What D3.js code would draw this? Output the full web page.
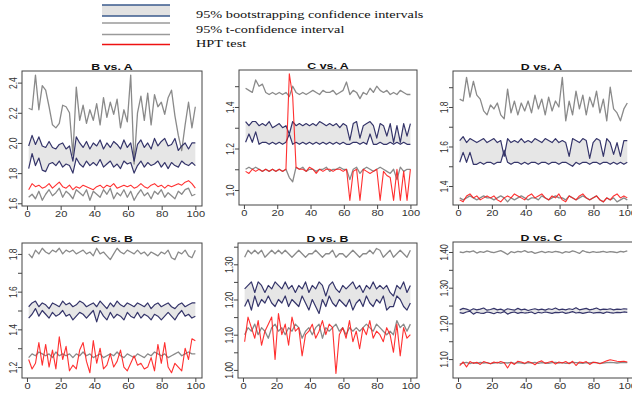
<!DOCTYPE html>
<html>
<head>
<meta charset="utf-8">
<script src="https://cdn.jsdelivr.net/npm/d3@7"></script>
<style>
  html, body { margin: 0; padding: 0; background: #fff; }
  svg { display: block; }
</style>
</head>
<body>
<div id="chart"></div>
<script>
// ---- data (50 trials per series) ----
const titles = ['B vs. A', 'C vs. A', 'D vs. A', 'C vs. B', 'D vs. B', 'D vs. C'];
const xTicks = [0, 20, 40, 60, 80, 100];
const legendLabels = ['95% bootstrapping confidence intervals', '95% t-confidence interval', 'HPT test'];

// B vs. A
const tUpBA = [2.23,2.22,2.45,2.22,2.38,2.35,2.24,2.12,2.10,2.13,2.25,2.24,2.20,1.92,2.37,2.15,2.25,2.13,2.22,2.15,2.26,2.12,2.30,2.17,2.27,2.19,2.29,2.10,2.22,2.14,2.45,1.86,2.20,2.31,2.15,2.33,2.12,2.32,2.24,2.27,2.19,2.30,2.35,2.18,2.05,1.95,2.12,2.27,2.10,2.24];
const bUpBA = [1.98,2.05,1.99,2.04,1.98,1.97,2.01,1.97,1.96,1.99,2.00,1.96,1.98,1.88,2.04,2.00,1.97,2.01,1.96,2.00,1.98,2.02,1.96,2.00,1.97,2.01,1.99,1.96,2.02,1.97,2.00,1.88,1.99,2.02,1.97,2.00,1.96,2.03,1.98,2.01,2.03,1.98,1.99,2.03,1.95,1.98,2.00,1.96,2.00,2.00];
const bLoBA = [1.83,1.93,1.85,1.90,1.82,1.81,1.86,1.87,1.85,1.88,1.84,1.86,1.85,1.80,1.90,1.86,1.84,1.88,1.85,1.87,1.85,1.89,1.84,1.86,1.88,1.84,1.86,1.83,1.88,1.86,1.87,1.80,1.85,1.88,1.84,1.87,1.85,1.86,1.88,1.84,1.87,1.83,1.87,1.85,1.84,1.88,1.86,1.85,1.87,1.85];
const tLoBA = [1.64,1.66,1.63,1.68,1.62,1.66,1.69,1.65,1.67,1.70,1.64,1.68,1.66,1.63,1.69,1.67,1.65,1.69,1.62,1.68,1.66,1.64,1.69,1.66,1.70,1.63,1.67,1.65,1.69,1.64,1.68,1.62,1.66,1.69,1.65,1.67,1.63,1.68,1.66,1.69,1.64,1.67,1.65,1.63,1.68,1.66,1.69,1.70,1.65,1.66];
const hptBA = [1.69,1.73,1.71,1.72,1.70,1.71,1.73,1.70,1.72,1.74,1.71,1.70,1.72,1.69,1.71,1.70,1.72,1.71,1.70,1.69,1.71,1.72,1.70,1.72,1.71,1.73,1.70,1.71,1.72,1.71,1.72,1.70,1.71,1.73,1.71,1.70,1.72,1.73,1.71,1.72,1.70,1.72,1.71,1.72,1.73,1.72,1.74,1.75,1.73,1.70];

// C vs. A
const tUpCA = [1.49,1.48,1.47,1.53,1.50,1.51,1.47,1.46,1.47,1.46,1.47,1.46,1.47,1.45,1.50,1.47,1.46,1.47,1.46,1.47,1.48,1.47,1.46,1.48,1.47,1.47,1.48,1.46,1.47,1.48,1.52,1.46,1.48,1.47,1.44,1.47,1.46,1.49,1.47,1.50,1.48,1.47,1.48,1.46,1.47,1.46,1.48,1.47,1.46,1.46];
const bUpCA = [1.33,1.31,1.33,1.33,1.31,1.32,1.31,1.33,1.30,1.31,1.32,1.30,1.31,1.27,1.33,1.31,1.32,1.31,1.32,1.31,1.32,1.31,1.33,1.32,1.31,1.32,1.31,1.32,1.30,1.32,1.31,1.24,1.32,1.33,1.25,1.31,1.32,1.33,1.31,1.25,1.32,1.31,1.26,1.32,1.23,1.31,1.23,1.32,1.26,1.32];
const bLoCA = [1.23,1.27,1.23,1.28,1.22,1.23,1.23,1.22,1.23,1.22,1.23,1.22,1.23,1.27,1.22,1.23,1.22,1.23,1.22,1.23,1.22,1.23,1.22,1.23,1.22,1.23,1.22,1.23,1.22,1.23,1.22,1.22,1.23,1.23,1.22,1.23,1.22,1.27,1.22,1.22,1.23,1.22,1.22,1.23,1.22,1.23,1.22,1.23,1.22,1.22];
const tLoCA = [1.10,1.11,1.10,1.11,1.10,1.09,1.10,1.09,1.10,1.09,1.10,1.09,1.10,1.06,1.04,1.11,1.10,1.11,1.09,1.10,1.10,1.09,1.10,1.10,1.11,1.09,1.10,1.10,1.11,1.10,1.10,1.05,1.10,1.11,1.08,1.10,1.11,1.10,1.09,1.10,1.11,1.10,1.09,1.08,1.10,1.05,1.11,1.09,1.10,1.10];
const hptCA = [1.09,1.08,1.10,1.09,1.10,1.09,1.10,1.09,1.10,1.09,1.10,1.09,1.10,1.56,1.45,1.11,1.10,1.10,1.09,1.11,1.10,1.08,1.10,1.09,1.10,1.10,1.09,1.10,1.10,1.09,1.10,0.95,1.09,1.10,0.95,1.10,1.09,1.08,1.09,1.10,0.95,1.09,1.07,1.06,0.95,1.10,0.95,1.09,0.95,1.10];

// D vs. A
const tUpDA = [1.84,1.83,1.95,1.85,1.93,1.86,1.84,1.78,1.76,1.81,1.79,1.82,1.76,1.74,1.89,1.77,1.83,1.76,1.82,1.78,1.83,1.77,1.86,1.79,1.84,1.76,1.85,1.78,1.83,1.80,1.95,1.73,1.83,1.76,1.88,1.79,1.86,1.76,1.85,1.80,1.88,1.77,1.84,1.73,1.90,1.79,1.77,1.73,1.79,1.82];
const bUpDA = [1.63,1.65,1.62,1.64,1.63,1.62,1.63,1.64,1.62,1.63,1.64,1.62,1.63,1.55,1.64,1.62,1.63,1.62,1.64,1.62,1.63,1.62,1.64,1.63,1.62,1.64,1.63,1.62,1.64,1.62,1.63,1.62,1.55,1.64,1.63,1.62,1.64,1.63,1.54,1.62,1.64,1.63,1.55,1.64,1.62,1.56,1.62,1.55,1.63,1.63];
const bLoDA = [1.52,1.57,1.52,1.57,1.51,1.51,1.52,1.51,1.52,1.52,1.51,1.52,1.52,1.58,1.52,1.51,1.52,1.52,1.51,1.52,1.51,1.52,1.52,1.51,1.52,1.52,1.51,1.52,1.52,1.51,1.52,1.52,1.51,1.50,1.52,1.51,1.52,1.52,1.51,1.52,1.52,1.51,1.52,1.52,1.51,1.52,1.51,1.52,1.51,1.52];
const tLoDA = [1.34,1.33,1.34,1.35,1.34,1.33,1.34,1.35,1.34,1.34,1.33,1.34,1.35,1.34,1.32,1.34,1.33,1.34,1.35,1.34,1.33,1.34,1.34,1.33,1.35,1.34,1.33,1.34,1.35,1.34,1.34,1.33,1.35,1.34,1.33,1.34,1.35,1.34,1.33,1.34,1.35,1.33,1.32,1.34,1.33,1.34,1.32,1.33,1.34,1.33];
const hptDA = [1.33,1.32,1.35,1.36,1.34,1.35,1.33,1.34,1.35,1.34,1.35,1.33,1.32,1.34,1.35,1.34,1.36,1.35,1.34,1.33,1.35,1.36,1.34,1.35,1.36,1.34,1.33,1.35,1.34,1.36,1.33,1.32,1.35,1.34,1.33,1.35,1.36,1.34,1.33,1.34,1.35,1.33,1.32,1.34,1.33,1.35,1.36,1.34,1.35,1.34];

// C vs. B
const tUpCB = [1.80,1.78,1.82,1.80,1.83,1.81,1.80,1.82,1.81,1.83,1.80,1.82,1.81,1.82,1.80,1.81,1.82,1.80,1.81,1.79,1.83,1.80,1.81,1.79,1.77,1.80,1.83,1.81,1.80,1.82,1.81,1.80,1.82,1.80,1.81,1.79,1.81,1.80,1.79,1.81,1.80,1.82,1.78,1.77,1.81,1.80,1.82,1.79,1.78,1.82];
const bUpCB = [1.52,1.54,1.55,1.52,1.54,1.53,1.51,1.54,1.53,1.52,1.55,1.53,1.54,1.52,1.53,1.55,1.54,1.52,1.53,1.54,1.52,1.55,1.53,1.51,1.54,1.52,1.55,1.53,1.52,1.54,1.53,1.52,1.54,1.53,1.52,1.54,1.51,1.53,1.54,1.52,1.53,1.54,1.52,1.51,1.53,1.54,1.52,1.53,1.54,1.54];
const bLoCB = [1.46,1.48,1.51,1.47,1.50,1.48,1.46,1.49,1.47,1.48,1.50,1.47,1.48,1.45,1.47,1.49,1.48,1.46,1.48,1.50,1.44,1.50,1.47,1.45,1.49,1.46,1.48,1.47,1.45,1.49,1.47,1.46,1.49,1.46,1.48,1.47,1.45,1.48,1.47,1.45,1.47,1.49,1.47,1.45,1.48,1.50,1.47,1.48,1.46,1.47];
const tLoCB = [1.25,1.27,1.26,1.28,1.27,1.26,1.27,1.25,1.28,1.26,1.27,1.26,1.27,1.25,1.27,1.26,1.28,1.26,1.27,1.25,1.26,1.27,1.25,1.26,1.27,1.26,1.28,1.26,1.25,1.27,1.26,1.25,1.27,1.26,1.25,1.27,1.26,1.28,1.27,1.26,1.27,1.25,1.26,1.27,1.28,1.26,1.27,1.28,1.27,1.27];
const hptCB = [1.24,1.19,1.22,1.33,1.21,1.32,1.20,1.29,1.19,1.36,1.24,1.31,1.18,1.21,1.19,1.29,1.33,1.23,1.17,1.34,1.22,1.30,1.19,1.21,1.27,1.20,1.23,1.29,1.20,1.18,1.22,1.26,1.21,1.22,1.19,1.20,1.25,1.18,1.32,1.22,1.33,1.20,1.17,1.22,1.20,1.18,1.30,1.24,1.35,1.34];

// D vs. B
const tUpDB = [1.32,1.34,1.33,1.34,1.33,1.34,1.32,1.33,1.34,1.33,1.34,1.33,1.34,1.33,1.32,1.33,1.34,1.33,1.32,1.33,1.33,1.34,1.33,1.32,1.33,1.33,1.34,1.32,1.33,1.33,1.32,1.33,1.34,1.33,1.32,1.33,1.33,1.34,1.33,1.345,1.34,1.32,1.33,1.34,1.32,1.33,1.34,1.33,1.32,1.34];
const bUpDB = [1.23,1.24,1.25,1.22,1.25,1.24,1.22,1.24,1.23,1.25,1.24,1.23,1.25,1.23,1.24,1.22,1.24,1.23,1.25,1.22,1.24,1.23,1.25,1.24,1.21,1.24,1.25,1.23,1.22,1.24,1.23,1.24,1.25,1.23,1.24,1.22,1.24,1.23,1.25,1.23,1.24,1.23,1.24,1.22,1.21,1.24,1.23,1.25,1.22,1.24];
const bLoDB = [1.18,1.20,1.17,1.21,1.18,1.20,1.19,1.21,1.19,1.18,1.20,1.19,1.21,1.18,1.20,1.19,1.18,1.21,1.19,1.17,1.20,1.18,1.16,1.20,1.18,1.21,1.19,1.18,1.20,1.19,1.18,1.20,1.17,1.19,1.20,1.18,1.21,1.19,1.18,1.20,1.19,1.21,1.17,1.18,1.18,1.21,1.20,1.18,1.17,1.19];
const tLoDB = [1.10,1.12,1.11,1.13,1.10,1.12,1.11,1.09,1.12,1.13,1.11,1.12,1.10,1.12,1.11,1.13,1.12,1.09,1.11,1.12,1.10,1.12,1.13,1.09,1.12,1.11,1.12,1.13,1.11,1.12,1.10,1.12,1.11,1.12,1.11,1.12,1.13,1.12,1.11,1.13,1.12,1.11,1.10,1.11,1.10,1.14,1.12,1.13,1.11,1.13];
const hptDB = [1.08,1.15,1.12,1.09,1.14,1.07,1.11,1.13,1.15,1.03,1.16,1.10,1.13,1.07,1.15,1.11,1.12,1.04,1.10,1.11,1.13,1.09,1.11,1.14,1.10,1.13,1.12,0.99,1.10,1.12,1.09,1.14,1.08,1.11,1.06,1.12,1.10,1.14,1.09,1.11,1.10,1.08,1.12,1.10,1.05,1.13,1.04,1.12,1.09,1.10];

// D vs. C
const tUpDC = [1.400,1.398,1.402,1.400,1.403,1.397,1.401,1.399,1.403,1.400,1.398,1.401,1.404,1.399,1.393,1.401,1.398,1.402,1.400,1.404,1.399,1.401,1.396,1.399,1.402,1.398,1.401,1.399,1.402,1.400,1.397,1.401,1.399,1.403,1.400,1.396,1.404,1.400,1.398,1.401,1.399,1.400,1.402,1.399,1.401,1.400,1.398,1.402,1.400,1.403];
const bUpDC = [1.238,1.242,1.240,1.236,1.241,1.238,1.240,1.243,1.237,1.239,1.242,1.238,1.240,1.236,1.241,1.239,1.237,1.242,1.238,1.240,1.236,1.239,1.241,1.238,1.240,1.237,1.241,1.239,1.243,1.238,1.240,1.238,1.241,1.239,1.244,1.238,1.240,1.242,1.238,1.240,1.243,1.238,1.240,1.239,1.241,1.238,1.240,1.239,1.241,1.240];
const bLoDC = [1.230,1.228,1.232,1.234,1.226,1.231,1.229,1.228,1.232,1.230,1.227,1.231,1.229,1.233,1.226,1.230,1.232,1.228,1.231,1.229,1.230,1.232,1.227,1.231,1.229,1.232,1.230,1.228,1.231,1.230,1.232,1.228,1.230,1.233,1.229,1.231,1.228,1.230,1.232,1.229,1.230,1.231,1.228,1.232,1.230,1.229,1.231,1.230,1.232,1.231];
const tLoDC = [1.086,1.089,1.091,1.087,1.090,1.088,1.091,1.089,1.090,1.087,1.089,1.091,1.088,1.090,1.089,1.091,1.088,1.090,1.089,1.087,1.090,1.089,1.091,1.088,1.090,1.089,1.088,1.090,1.091,1.089,1.090,1.088,1.089,1.091,1.090,1.089,1.088,1.090,1.089,1.091,1.090,1.088,1.089,1.090,1.091,1.090,1.089,1.090,1.091,1.090];
const hptDC = [1.082,1.092,1.078,1.093,1.088,1.091,1.085,1.093,1.090,1.087,1.092,1.089,1.093,1.090,1.075,1.091,1.085,1.094,1.092,1.088,1.093,1.090,1.084,1.092,1.095,1.088,1.091,1.094,1.086,1.092,1.089,1.093,1.087,1.094,1.082,1.092,1.090,1.093,1.085,1.091,1.090,1.087,1.091,1.095,1.098,1.096,1.094,1.093,1.094,1.092];

// y tick values and which of them carry a label
const yTicksBA = [1.6, 1.8, 2.0, 2.2, 2.4];
const yTicksCA = [1.0, 1.1, 1.2, 1.3, 1.4, 1.5];
const yTicksDA = [1.4, 1.5, 1.6, 1.7, 1.8, 1.9];
const yTicksCB = [1.2, 1.3, 1.4, 1.5, 1.6, 1.7, 1.8];
const yTicksDB = [1.00, 1.05, 1.10, 1.15, 1.20, 1.25, 1.30, 1.35];
const yTicksDC = [1.10, 1.15, 1.20, 1.25, 1.30, 1.35, 1.40];

const series = [
  { tUp: tUpBA, bUp: bUpBA, bLo: bLoBA, tLo: tLoBA, hpt: hptBA, ticks: yTicksBA, every: 1, fmt: '.1f' },
  { tUp: tUpCA, bUp: bUpCA, bLo: bLoCA, tLo: tLoCA, hpt: hptCA, ticks: yTicksCA, every: 2, fmt: '.1f' },
  { tUp: tUpDA, bUp: bUpDA, bLo: bLoDA, tLo: tLoDA, hpt: hptDA, ticks: yTicksDA, every: 2, fmt: '.1f' },
  { tUp: tUpCB, bUp: bUpCB, bLo: bLoCB, tLo: tLoCB, hpt: hptCB, ticks: yTicksCB, every: 2, fmt: '.1f' },
  { tUp: tUpDB, bUp: bUpDB, bLo: bLoDB, tLo: tLoDB, hpt: hptDB, ticks: yTicksDB, every: 2, fmt: '.2f' },
  { tUp: tUpDC, bUp: bUpDC, bLo: bLoDC, tLo: tLoDC, hpt: hptDC, ticks: yTicksDC, every: 2, fmt: '.2f' }
];

// ---- layout: plot boxes and y ranges as seen in the figure ----
const layout = [
  { l: 22,  r: 202, t: 71,  b: 206, y: [1.582, 2.477] },
  { l: 239, r: 417, t: 70,  b: 205, y: [0.928, 1.578] },
  { l: 453, r: 634, t: 71,  b: 205, y: [1.304, 1.982] },
  { l: 22,  r: 202, t: 243, b: 378, y: [1.142, 1.858] },
  { l: 238, r: 417, t: 243, b: 378, y: [0.977, 1.3605] },
  { l: 453, r: 634, t: 242, b: 378, y: [1.047, 1.428] }
];

const width = 632;
const height = 397;
const SX = 1.3; // the figure is stretched horizontally
const sans = 'Liberation Sans, Arial, sans-serif';
const serif = 'Liberation Serif, Times New Roman, serif';
const colors = { fill: '#e6e6e6', boot: '#35356a', tci: '#8a8a8a', hpt: '#ff1a1a', frame: '#444', text: '#333' };

const svg = d3.select('#chart')
  .append('svg')
  .attr('width', width)
  .attr('height', height)
  .style('background-color', '#fff');

// legend
const legend = svg.append('g').attr('class', 'legend');
legend.append('rect')
  .attr('x', 102).attr('y', 5).attr('width', 68).attr('height', 11)
  .attr('fill', '#e2e2e2');
[[5, '#3a5a8c'], [16, '#3a5a8c'], [23, '#9a9a9a'], [34.5, '#9a9a9a'], [44.5, '#ee1111']].forEach(([y, c]) => {
  legend.append('line')
    .attr('x1', 102).attr('x2', 170).attr('y1', y).attr('y2', y)
    .attr('stroke', c).attr('stroke-width', 1.6);
});
[17.5, 33, 47].forEach((y, i) => {
  legend.append('text')
    .attr('transform', `translate(196, ${y}) scale(${SX}, 1)`)
    .attr('font-family', serif)
    .attr('font-size', 11)
    .attr('fill', '#111')
    .text(legendLabels[i]);
});

series.forEach((s, k) => {
  const box = layout[k];
  const g = svg.append('g').attr('class', 'panel');

  const xScale = d3.scaleLinear().domain([-2.96, 103.96]).range([box.l, box.r]);
  const yScale = d3.scaleLinear().domain(box.y).range([box.b, box.t]);
  const trial = (i, n) => 1 + i * 99 / (n - 1);

  const line = d3.line()
    .x((d, i, arr) => xScale(trial(i, arr.length)))
    .y((d) => yScale(d));

  const idx = d3.range(s.bUp.length);
  const area = d3.area()
    .x((i) => xScale(trial(i, idx.length)))
    .y0((i) => yScale(s.bLo[i]))
    .y1((i) => yScale(s.bUp[i]));

  const clipId = 'clip' + k;
  g.append('clipPath').attr('id', clipId)
    .append('rect')
    .attr('x', box.l).attr('y', box.t)
    .attr('width', box.r - box.l).attr('height', box.b - box.t);

  const plot = g.append('g').attr('clip-path', `url(#${clipId})`);

  plot.append('path')
    .attr('d', area(idx))
    .attr('fill', colors.fill);

  [['tUp', colors.tci, 1.3], ['tLo', colors.tci, 1.3], ['bUp', colors.boot, 1.2], ['bLo', colors.boot, 1.2], ['hpt', colors.hpt, 1.1]]
    .forEach(([key, c, w]) => {
      plot.append('path')
        .datum(s[key])
        .attr('d', line)
        .attr('fill', 'none')
        .attr('stroke', c)
        .attr('stroke-width', w)
        .attr('stroke-linejoin', 'round')
        .attr('opacity', key === 'hpt' ? 0.9 : 1);
    });

  // frame
  g.append('rect')
    .attr('x', box.l).attr('y', box.t)
    .attr('width', box.r - box.l).attr('height', box.b - box.t)
    .attr('fill', 'none')
    .attr('stroke', colors.frame)
    .attr('stroke-width', 1);

  // x axis
  const xAxis = g.append('g')
    .attr('transform', `translate(0, ${box.b})`)
    .call(d3.axisBottom(xScale).tickValues(xTicks).tickSize(4).tickPadding(0.5));
  xAxis.select('.domain').remove();
  xAxis.selectAll('line').attr('stroke', colors.frame);
  xAxis.selectAll('text')
    .attr('font-family', sans)
    .attr('font-size', 8.5)
    .attr('fill', colors.text)
    .attr('transform', `scale(${SX}, 1)`);

  // y axis
  const yAxis = g.append('g')
    .attr('transform', `translate(${box.l}, 0)`)
    .call(d3.axisLeft(yScale).tickValues(s.ticks).tickSize(4)
      .tickFormat((d, i) => (i % s.every === 0 ? d3.format(s.fmt)(d) : '')));
  yAxis.select('.domain').remove();
  yAxis.selectAll('line').attr('stroke', colors.frame);
  yAxis.selectAll('text')
    .attr('font-family', sans)
    .attr('font-size', 8.5)
    .attr('fill', colors.text)
    .attr('x', 0)
    .attr('y', -4)
    .attr('dy', 0)
    .attr('text-anchor', 'middle')
    .attr('transform', `scale(${SX}, 1) rotate(-90)`);

  // title
  g.append('text')
    .attr('transform', `translate(${(box.l + box.r) / 2 + (k % 3 === 2 ? -2 : 0)}, ${box.t - 1.5}) scale(${SX}, 1)`)
    .attr('text-anchor', 'middle')
    .attr('font-family', sans)
    .attr('font-weight', 'bold')
    .attr('font-size', 9.5)
    .attr('fill', '#111')
    .text(titles[k]);
});
</script>
</body>
</html>
